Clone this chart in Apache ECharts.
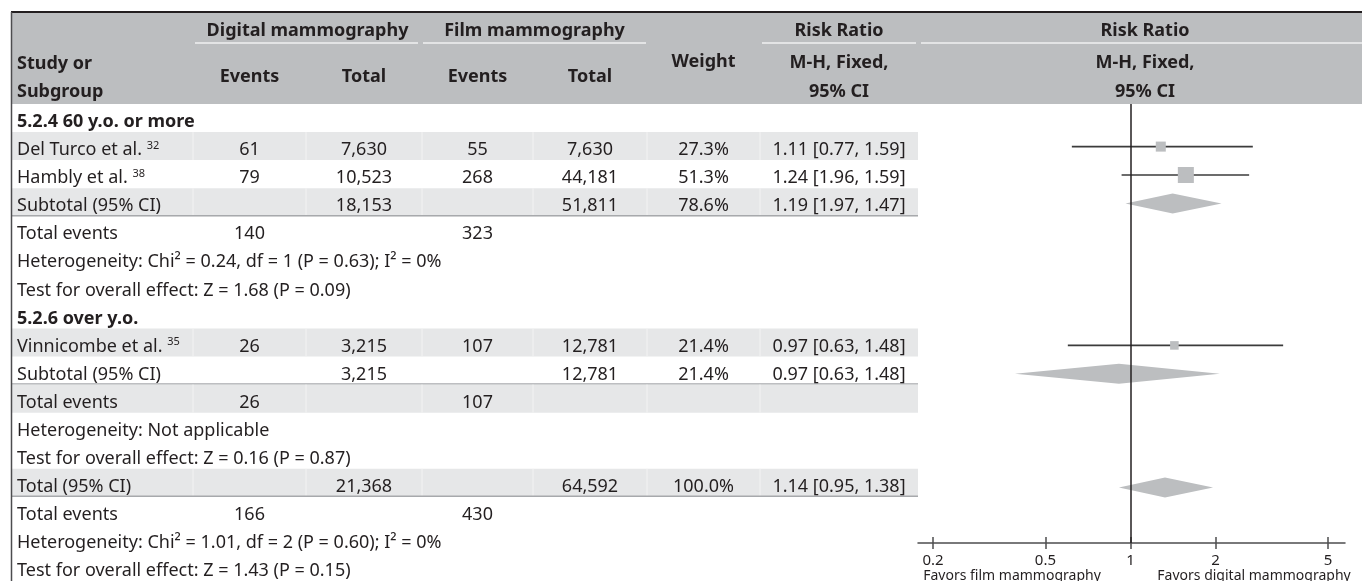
<!DOCTYPE html>
<html><head><meta charset="utf-8">
<script src="https://cdn.jsdelivr.net/npm/echarts@6/dist/echarts.min.js"></script>
<style>html,body{margin:0;padding:0;background:#fff}#c{width:1362px;height:581px}</style>
</head><body><div id="c"></div>
<script>
// ---------------- data ----------------
const rowLabels = [
  '5.2.4 60 y.o. or more', 'Del Turco et al.', 'Hambly et al.', 'Subtotal (95% CI)',
  'Total events', 'Heterogeneity: Chi² = 0.24, df = 1 (P = 0.63); I² = 0%',
  'Test for overall effect: Z = 1.68 (P = 0.09)', '5.2.6 over y.o.', 'Vinnicombe et al.',
  'Subtotal (95% CI)', 'Total events', 'Heterogeneity: Not applicable',
  'Test for overall effect: Z = 0.16 (P = 0.87)', 'Total (95% CI)', 'Total events',
  'Heterogeneity: Chi² = 1.01, df = 2 (P = 0.60); I² = 0%',
  'Test for overall effect: Z = 1.43 (P = 0.15)'
];
const refNums       = ['', '32', '38', '', '', '', '', '', '35', '', '', '', '', '', '', '', ''];
const digitalEvents = ['', '61', '79', '', '140', '', '', '', '26', '', '26', '', '', '', '166', '', ''];
const digitalTotal  = ['', '7,630', '10,523', '18,153', '', '', '', '', '3,215', '3,215', '', '', '', '21,368', '', '', ''];
const filmEvents    = ['', '55', '268', '', '323', '', '', '', '107', '', '107', '', '', '', '430', '', ''];
const filmTotal     = ['', '7,630', '44,181', '51,811', '', '', '', '', '12,781', '12,781', '', '', '', '64,592', '', '', ''];
const weights       = ['', '27.3%', '51.3%', '78.6%', '', '', '', '', '21.4%', '21.4%', '', '', '', '100.0%', '', '', ''];
const riskRatios    = ['', '1.11 [0.77, 1.59]', '1.24 [1.96, 1.59]', '1.19 [1.97, 1.47]', '', '', '', '',
                       '0.97 [0.63, 1.48]', '0.97 [0.63, 1.48]', '', '', '', '1.14 [0.95, 1.38]', '', '', ''];

// forest plot marks
const plotRows   = [1, 2, 3, 8, 9, 13];
const plotKind   = ['study', 'study', 'diamond', 'study', 'diamond', 'diamond'];
const plotWeight = [27.3, 51.3, 78.6, 21.4, 21.4, 100.0];
const plotEst    = [1.28, 1.57, 1.41, 1.43, 0.91, 1.325];
const plotLow    = [0.62, 0.93, 0.96, 0.60, 0.39, 0.91];
const plotHigh   = [2.71, 2.63, 2.10, 3.47, 2.07, 1.96];

const tickValues = [0.2, 0.5, 1, 2, 5];
const tickLabels = ['0.2', '0.5', '1', '2', '5'];

const headerGroups = ['Digital mammography', 'Film mammography', 'Risk Ratio', 'Risk Ratio'];
const headerSub    = ['Events', 'Total', 'Events', 'Total', 'Weight'];
const favorLabels  = ['Favors film mammography', 'Favors digital mammography'];

// ---------------- layout / style ----------------
const FONT = '"Noto Sans", "DejaVu Sans", sans-serif';
const INK = '#231f20';
const HEAD_BG = '#bcbec0';
const ROW_BG = '#e6e7e8';
const RULE = '#a7a9ac';
const AXIS_C = '#4d4d4f';
const ROW_H = 28.4;
const TOP = 12, BODY_TOP = 104;
const COLS = [12, 193, 306, 422, 533, 647, 760, 918, 1362];
const cc = i => (COLS[i] + COLS[i + 1]) / 2;
const BOLD_ROWS = [0, 7];
const SHADED_ROWS = [1, 3, 8, 10, 13];
const RULED_ROWS = [3, 9, 13];
const PLOT_L = 918, PLOT_R = 1345, AXIS_Y = 543;
const BODY_FS = 18, HEAD_FS = 18;
const TXT_DY = 4, HEAD_DY = 2;

const cellCols = [digitalEvents, digitalTotal, filmEvents, filmTotal, weights, riskRatios];

function renderRow(params, api) {
  const i = api.value(1);
  const top = api.coord([0, i])[1];
  const bot = api.coord([0, i + 1])[1];
  const mid = (top + bot) / 2 + TXT_DY;
  const ch = [];
  if (SHADED_ROWS.includes(i)) {
    ch.push({ type: 'rect', shape: { x: COLS[0], y: top, width: COLS[7] - COLS[0], height: bot - top },
      style: { fill: ROW_BG } });
    for (let k = 1; k < 7; k++) {
      ch.push({ type: 'line', shape: { x1: COLS[k], y1: top, x2: COLS[k], y2: bot },
        style: { stroke: '#f3f3f3', lineWidth: 1 } });
    }
  }
  if (RULED_ROWS.includes(i)) {
    ch.push({ type: 'line', shape: { x1: COLS[0], y1: bot - 0.5, x2: COLS[7], y2: bot - 0.5 },
      style: { stroke: RULE, lineWidth: 1.5 } });
  }
  const bold = BOLD_ROWS.includes(i);
  const ref = refNums[i];
  ch.push({ type: 'text', x: 17, y: mid, style: {
    text: '{a|' + rowLabels[i] + (ref ? ' ' : '') + '}' + (ref ? '{s|' + ref + '}' : ''),
    verticalAlign: 'middle', align: 'left',
    rich: {
      a: { fontFamily: FONT, fontSize: BODY_FS, fontWeight: bold ? 'bold' : 'normal', fill: INK, lineHeight: 20 },
      s: { fontFamily: FONT, fontSize: 11, fill: INK, verticalAlign: 'top', lineHeight: 20 }
    }
  } });
  cellCols.forEach((arr, k) => {
    if (arr[i]) ch.push({ type: 'text', x: cc(k + 1), y: mid, style: {
      text: arr[i], align: 'center', verticalAlign: 'middle',
      fontFamily: FONT, fontSize: BODY_FS, fill: INK } });
  });
  return { type: 'group', children: ch };
}

function renderForest(params, api) {
  const idx = params.dataIndex;
  const row = api.value(0) + 0.5;
  const pe = api.coord([api.value(1), row]);
  const pl = api.coord([api.value(2), row]);
  const ph = api.coord([api.value(3), row]);
  const yc = pe[1];
  if (plotKind[idx] === 'study') {
    const s = 3.2 + 0.25 * plotWeight[idx];
    return { type: 'group', children: [
      { type: 'line', shape: { x1: pl[0], y1: yc, x2: ph[0], y2: yc }, style: { stroke: '#3b3b3b', lineWidth: 1.6 } },
      { type: 'rect', shape: { x: pe[0] - s / 2, y: yc - s / 2, width: s, height: s }, style: { fill: HEAD_BG } }
    ] };
  }
  const h = 10;
  return { type: 'polygon', shape: { points: [[pl[0], yc], [pe[0], yc - h], [ph[0], yc], [pe[0], yc + h]] },
    style: { fill: HEAD_BG } };
}

// header graphics
const hdr = [];
hdr.push({ type: 'rect', shape: { x: COLS[0], y: TOP, width: 1362 - COLS[0], height: BODY_TOP - TOP },
  style: { fill: HEAD_BG }, z: 0 });
const underl = [[195, 418], [423, 646], [762, 916], [921, 1362]];
underl.forEach(u => hdr.push({ type: 'line', shape: { x1: u[0], y1: 43, x2: u[1], y2: 43 },
  style: { stroke: '#f1f1f2', lineWidth: 1.5 }, z: 1 }));
const hText = (t, x, y, align) => ({ type: 'text', x, y: y + HEAD_DY, z: 2, style: {
  text: t, align: align || 'center', verticalAlign: 'middle', fontFamily: FONT,
  fontSize: HEAD_FS, fontWeight: 'bold', fill: INK } });
hdr.push(hText(headerGroups[0], (COLS[1] + COLS[3]) / 2, 29));
hdr.push(hText(headerGroups[1], (COLS[3] + COLS[5]) / 2, 29));
hdr.push(hText(headerGroups[2], cc(6), 29));
hdr.push(hText(headerGroups[3], 1145, 29));
hdr.push(hText('Study or', 17, 62, 'left'));
hdr.push(hText('Subgroup', 17, 90, 'left'));
headerSub.forEach((t, k) => hdr.push(hText(t, cc(k + 1), k === 4 ? 60 : 75)));
hdr.push(hText('M-H, Fixed,', cc(6), 61));
hdr.push(hText('95% CI', cc(6), 90));
hdr.push(hText('M-H, Fixed,', 1145, 61));
hdr.push(hText('95% CI', 1145, 90));
// borders
hdr.push({ type: 'line', shape: { x1: 11, y1: TOP, x2: 1362, y2: TOP }, style: { stroke: INK, lineWidth: 2 }, z: 3 });
hdr.push({ type: 'line', shape: { x1: 11.5, y1: TOP, x2: 11.5, y2: 581 }, style: { stroke: AXIS_C, lineWidth: 1.5 }, z: 3 });
// favors labels
hdr.push({ type: 'text', x: 1012, y: 569, z: 2, style: { text: favorLabels[0], align: 'center', verticalAlign: 'top',
  fontFamily: FONT, fontSize: 14, fill: INK } });
hdr.push({ type: 'text', x: 1254, y: 569, z: 2, style: { text: favorLabels[1], align: 'center', verticalAlign: 'top',
  fontFamily: FONT, fontSize: 14, fill: INK } });

const plotYMax = (AXIS_Y - BODY_TOP) / ROW_H;
const logMin = Math.pow(10, -(1130.5 - PLOT_L) / 282.5);
const logMax = Math.pow(10, (PLOT_R - 1130.5) / 282.5);
const fmtTick = v => { let best = 0; tickValues.forEach((t, k) => { if (Math.abs(t - v) < Math.abs(tickValues[best] - v)) best = k; }); return tickLabels[best]; };
const plotGrid = { left: PLOT_L, width: PLOT_R - PLOT_L, top: BODY_TOP, height: AXIS_Y - BODY_TOP };

const chart = echarts.init(document.getElementById('c'), null, { renderer: 'canvas' });
chart.setOption({
  animation: false,
  backgroundColor: '#fff',
  textStyle: { fontFamily: FONT },
  graphic: { elements: hdr },
  grid: [
    { left: 0, right: 0, top: BODY_TOP, height: rowLabels.length * ROW_H },
    plotGrid,
    Object.assign({}, plotGrid)
  ],
  xAxis: [
    { gridIndex: 0, type: 'value', min: 0, max: 1362, show: false },
    { gridIndex: 1, type: 'log', min: logMin, max: logMax, position: 'bottom',
      axisLine: { show: true, onZero: false, lineStyle: { color: AXIS_C, width: 1.5 } },
      axisTick: { show: true, inside: false, length: 6, customValues: tickValues, lineStyle: { color: AXIS_C, width: 1.5 } },
      axisLabel: { show: true, customValues: tickValues, margin: 10, color: INK, fontSize: 15, fontFamily: FONT, formatter: fmtTick },
      splitLine: { show: false } },
    { gridIndex: 2, type: 'log', min: logMin, max: logMax, position: 'bottom',
      axisLine: { show: false, onZero: false },
      axisTick: { show: true, inside: true, length: 6, customValues: tickValues, lineStyle: { color: AXIS_C, width: 1.5 } },
      axisLabel: { show: false }, splitLine: { show: false } }
  ],
  yAxis: [
    { gridIndex: 0, type: 'value', min: 0, max: rowLabels.length, inverse: true, show: false },
    { gridIndex: 1, type: 'value', min: 0, max: plotYMax, inverse: true, show: false },
    { gridIndex: 2, type: 'value', min: 0, max: plotYMax, inverse: true, show: false }
  ],
  series: [
    { type: 'custom', xAxisIndex: 0, yAxisIndex: 0, renderItem: renderRow, silent: true,
      encode: { x: 0, y: 1 }, data: rowLabels.map((_, i) => [0, i]), z: 1, clip: false },
    { type: 'custom', xAxisIndex: 1, yAxisIndex: 1, renderItem: renderForest, silent: true,
      encode: { x: [1, 2, 3], y: 0 }, z: 2, clip: false,
      data: plotRows.map((r, k) => [r, plotEst[k], plotLow[k], plotHigh[k]]),
      markLine: { silent: true, symbol: ['none', 'none'], label: { show: false },
        lineStyle: { color: INK, width: 1.5, type: 'solid' }, z: 5,
        data: [{ xAxis: 1 }] } }
  ]
});
</script></body></html>
